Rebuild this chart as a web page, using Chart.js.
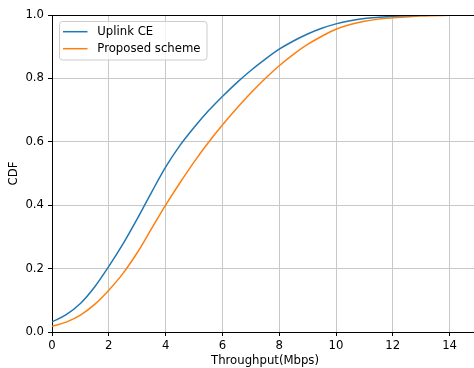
<!DOCTYPE html>
<html>
<head>
<meta charset="utf-8">
<script src="https://cdn.jsdelivr.net/npm/chart.js@4"></script>
<style>
  html, body { margin: 0; padding: 0; background: #fff; overflow: hidden; }
  #wrap { width: 478px; height: 368px; position: relative; }
</style>
</head>
<body>
<div id="wrap"><canvas id="cdf"></canvas></div>
<script>
// Throughput samples (Mbps) and CDF values
const throughput = [0, 0.5, 1, 1.5, 2, 2.5, 3, 3.5, 4, 4.5, 5, 5.5, 6, 6.5, 7, 7.5, 8, 8.5, 9, 9.5, 10, 10.5, 11, 11.5, 12, 13, 14, 15];
const uplinkCE = [0.032, 0.055, 0.09, 0.142, 0.207, 0.278, 0.357, 0.44, 0.52, 0.588, 0.645, 0.697, 0.743, 0.786, 0.825, 0.86, 0.892, 0.918, 0.94, 0.958, 0.972, 0.982, 0.989, 0.993, 0.996, 0.999, 1.0, 1.0];
const proposed = [0.018, 0.031, 0.053, 0.087, 0.132, 0.185, 0.25, 0.325, 0.40, 0.47, 0.536, 0.597, 0.653, 0.705, 0.754, 0.799, 0.84, 0.876, 0.907, 0.933, 0.955, 0.97, 0.98, 0.987, 0.991, 0.997, 0.999, 1.0];
const seriesNames = ['Uplink CE', 'Proposed scheme'];
const xTicks = [0, 2, 4, 6, 8, 10, 12, 14];
const yTicks = [0, 0.2, 0.4, 0.6, 0.8, 1.0];

const font = { family: 'DejaVu Sans', size: 11.7 };

// matplotlib-like top spine and legend inside the axes
const extras = {
  id: 'extras',
  afterDatasetsDraw(chart) {
    const { ctx, chartArea } = chart;
    ctx.save();
    ctx.strokeStyle = '#000';
    ctx.lineWidth = 1;
    ctx.beginPath();
    ctx.moveTo(chartArea.left, chartArea.top + 0.5);
    ctx.lineTo(chartArea.right, chartArea.top + 0.5);
    ctx.stroke();

    // legend box
    ctx.fillStyle = 'rgba(255,255,255,0.8)';
    ctx.strokeStyle = '#cccccc';
    ctx.beginPath();
    ctx.roundRect(59.5, 21.5, 147.5, 38.5, 3);
    ctx.fill();
    ctx.stroke();

    ctx.font = '11.7px "DejaVu Sans"';
    ctx.textBaseline = 'middle';
    ctx.textAlign = 'left';
    chart.data.datasets.forEach((ds, i) => {
      const y = 31.7 + i * 17;
      ctx.strokeStyle = ds.borderColor;
      ctx.lineWidth = 1.5;
      ctx.beginPath();
      ctx.moveTo(63, y);
      ctx.lineTo(87.5, y);
      ctx.stroke();
      ctx.fillStyle = '#000';
      ctx.fillText(ds.label, 97.3, y + 0.5);
    });
    ctx.restore();
  }
};

new Chart(document.getElementById('cdf'), {
  type: 'line',
  data: {
    datasets: [
      {
        label: seriesNames[0],
        data: throughput.map((x, i) => ({ x: x, y: uplinkCE[i] })),
        borderColor: '#1f77b4',
        borderWidth: 1.5,
        pointRadius: 0,
        cubicInterpolationMode: 'monotone'
      },
      {
        label: seriesNames[1],
        data: throughput.map((x, i) => ({ x: x, y: proposed[i] })),
        borderColor: '#ff7f0e',
        borderWidth: 1.5,
        pointRadius: 0,
        cubicInterpolationMode: 'monotone'
      }
    ]
  },
  options: {
    responsive: true,
    maintainAspectRatio: false,
    animation: false,
    layout: { padding: { top: 15, right: 0, bottom: 0, left: 0 } },
    plugins: {
      legend: { display: false },
      tooltip: { enabled: false }
    },
    scales: {
      x: {
        type: 'linear',
        min: 0,
        max: 15,
        afterBuildTicks: (scale) => { scale.ticks = xTicks.map(v => ({ value: v })); },
        afterFit: (scale) => { scale.height = 36; },
        ticks: { font: font, color: '#000', padding: 3, maxRotation: 0, callback: (v) => String(v) },
        grid: { color: '#c8c8c8', lineWidth: 1, tickColor: '#000', tickLength: 4 },
        border: { display: true, color: '#000', width: 1 },
        title: { display: true, text: 'Throughput(Mbps)', font: font, color: '#000', padding: { top: 0, bottom: 0.5 } }
      },
      y: {
        min: 0,
        max: 1,
        afterBuildTicks: (scale) => { scale.ticks = yTicks.map(v => ({ value: v })); },
        afterFit: (scale) => { scale.width = 52; },
        ticks: { font: font, color: '#000', padding: 4, callback: (v) => v.toFixed(1) },
        grid: { color: '#c8c8c8', lineWidth: 1, tickColor: '#000', tickLength: 4 },
        border: { display: true, color: '#000', width: 1 },
        title: { display: true, text: 'CDF', font: font, color: '#000', padding: { top: 7, bottom: 0 } }
      }
    }
  },
  plugins: [extras]
});
</script>
</body>
</html>
